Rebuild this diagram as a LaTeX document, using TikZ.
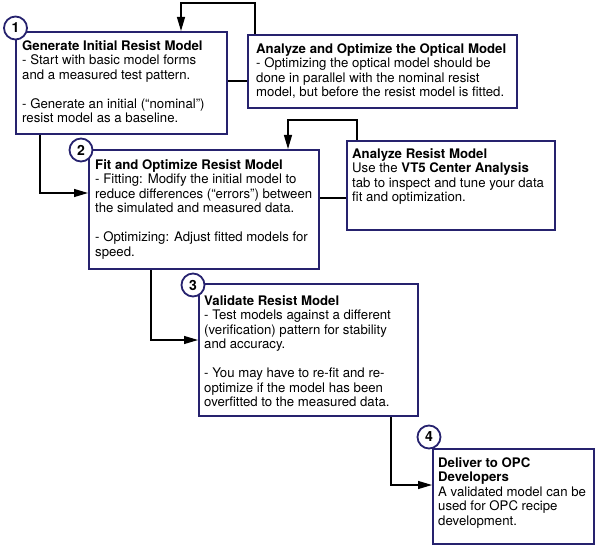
\documentclass[tikz,border=0pt]{standalone}
\usepackage{fontspec}
\setmainfont{TeX Gyre Heros}
\usetikzlibrary{arrows.meta,calc}
\definecolor{navy}{RGB}{38,34,110}
\begin{document}
\begin{tikzpicture}[x=1pt,y=-1pt,
 box/.style={draw=navy, line width=2.2pt, anchor=north west, inner sep=0pt},
 txt/.style={anchor=north west, align=left, inner sep=0pt, font=\fontsize{13.2}{14.5}\selectfont},
 num/.style={circle, draw=navy, line width=1.8pt, fill=white, minimum size=23pt, inner sep=0pt, font=\fontsize{14}{14}\selectfont\bfseries},
 conn/.style={line width=1.1pt, black},
 arr/.style={conn, -{Triangle[length=14pt,width=8pt]}}
]
\useasboundingbox (0,0) rectangle (598,551);
% boxes
\node[box, minimum width=211pt, minimum height=102pt] (b1) at (15,31) {};
\node[box, minimum width=269pt, minimum height=73pt] (opt) at (247,34) {};
\node[box, minimum width=230pt, minimum height=119pt] (b2) at (88,149) {};
\node[box, minimum width=208pt, minimum height=89pt] (res) at (346,140) {};
\node[box, minimum width=219pt, minimum height=132pt] (b3) at (198,283) {};
\node[box, minimum width=161pt, minimum height=95pt] (b4) at (432,448) {};
% texts
\node[txt] (t1) at ($(b1.north west)+(7,9)$) {\textbf{Generate Initial Resist Model}\\- Start with basic model forms\\and a measured test pattern.\\[14.5pt]- Generate an initial (“nominal”)\\resist model as a baseline.};
\node[txt] (topt) at ($(opt.north west)+(9,9)$) {\textbf{Analyze and Optimize the Optical Model}\\- Optimizing the optical model should be\\done in parallel with the nominal resist\\model, but before the resist model is fitted.};
\node[txt] (t2) at ($(b2.north west)+(7,10)$) {\textbf{Fit and Optimize Resist Model}\\- Fitting: Modify the initial model to\\reduce differences (“errors”) between\\the simulated and measured data.\\[14.5pt]- Optimizing: Adjust fitted models for\\speed.};
\node[txt] (tres) at ($(res.north west)+(6,8)$) {\textbf{Analyze Resist Model}\\Use the \textbf{VT5 Center Analysis}\\tab to inspect and tune your data\\fit and optimization.};
\node[txt] (t3) at ($(b3.north west)+(6,12)$) {\textbf{Validate Resist Model}\\- Test models against a different\\(verification) pattern for stability\\and accuracy.\\[14.5pt]- You may have to re-fit and re-\\optimize if the model has been\\overfitted to the measured data.};
\node[txt] (t4) at ($(b4.north west)+(6,9)$) {\textbf{Deliver to OPC}\\\textbf{Developers}\\A validated model can be\\used for OPC recipe\\development.};
% connectors
\coordinate (k1) at (181,3);
\draw[arr] ($(opt.north west)+(8,0)$) |- (k1) -- (k1 |- b1.north);
\draw[conn] ($(b1.north east)+(0,50)$) -- ($(opt.north west)+(0,47)$);
\coordinate (k3) at (40,193);
\draw[arr] (k3 |- b1.south) -- (k3) -- (k3 -| b2.west);
\coordinate (k4a) at (357,120);
\coordinate (k4b) at (288,120);
\draw[arr] (k4a |- res.north) -- (k4a) -- (k4b) -- (k4b |- b2.north);
\coordinate (k5) at (0,198);
\draw[conn] (k5 -| b2.east) -- (k5 -| res.west);
\coordinate (k6) at (151,340);
\draw[arr] (k6 |- b2.south) -- (k6) -- (k6 -| b3.west);
\coordinate (k7) at (391,485);
\draw[arr] (k7 |- b3.south) -- (k7) -- (k7 -| b4.west);
% numbers
\node[num] (c1) at (15.5,28) {1};
\node[num] (c2) at (81,150) {2};
\node[num] (c3) at (193,285) {3};
\node[num] (c4) at (429,437) {4};
\end{tikzpicture}
\end{document}
